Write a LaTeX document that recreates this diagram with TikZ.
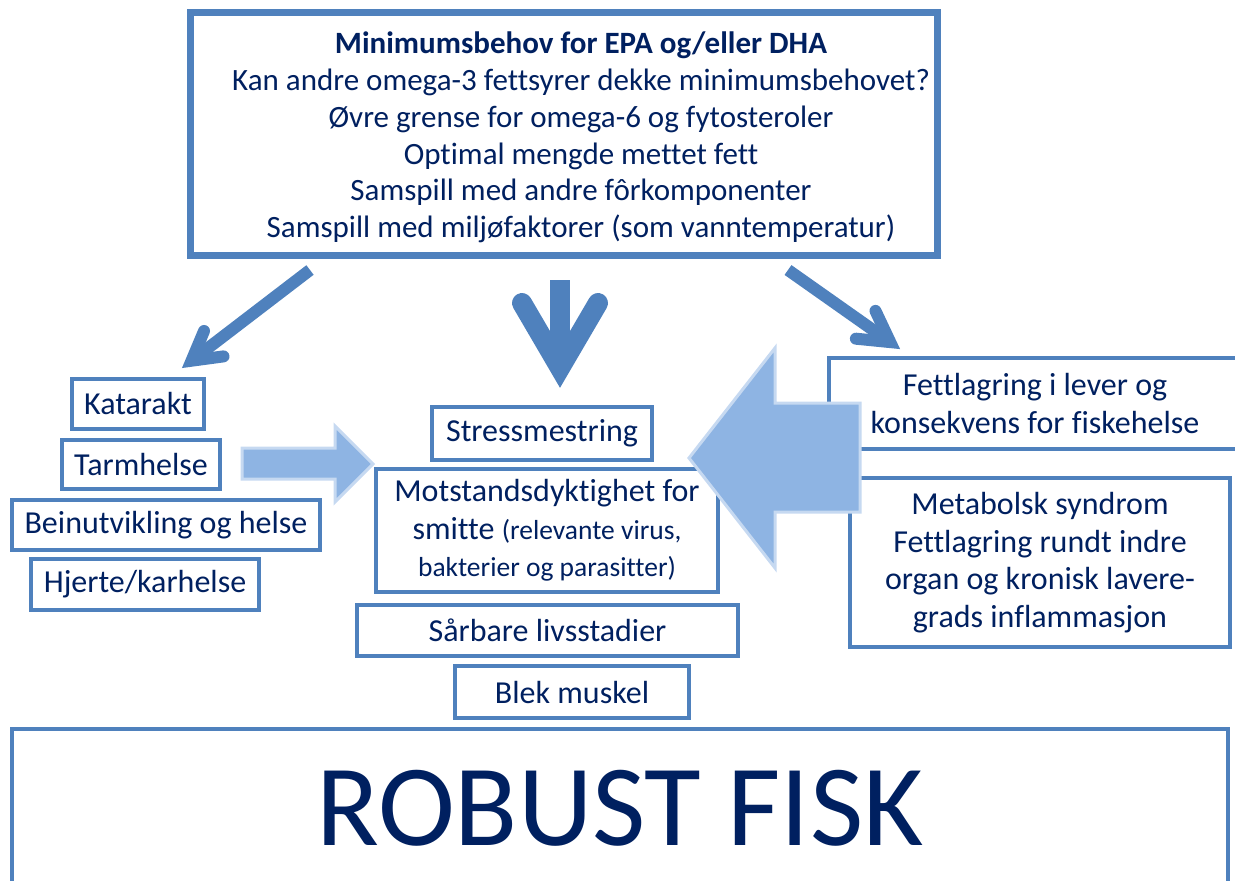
\documentclass[tikz,border=0pt]{standalone}
\usepackage{fontspec}
\setmainfont{Carlito}[Ligatures=NoCommon]
\usetikzlibrary{calc}
\definecolor{bordblue}{RGB}{79,129,189}
\definecolor{navy}{RGB}{0,32,96}
\definecolor{afill}{RGB}{142,180,227}
\definecolor{aedge}{RGB}{198,217,241}
\begin{document}
\begin{tikzpicture}[x=1pt,y=-1pt,
  box/.style={draw=bordblue, line width=4pt, fill=white, text=navy, align=center, inner sep=0pt,
    font=\fontsize{32}{37.7}\selectfont},
  blockarrow/.style={fill=afill, draw=aedge, line width=3pt, line join=miter},
  shaftline/.style={draw=bordblue, line cap=butt},
  headline/.style={draw=bordblue, line cap=round, line join=miter}
]
\useasboundingbox (0,0) rectangle (1235,881);

% top box
\node[box, line width=7pt, minimum width=747pt, minimum height=243pt] (top) at (564,133.5) {};
\node[text=navy, align=center, inner sep=0pt, font=\fontsize{31}{36.8}\selectfont] (toptext) at (581,137.5)
  {\textbf{Minimumsbehov for EPA og/eller DHA}\\
   Kan andre omega-3 fettsyrer dekke minimumsbehovet?\\
   Øvre grense for omega-6 og fytosteroler\\
   Optimal mengde mettet fett\\
   Samspill med andre fôrkomponenter\\
   Samspill med miljøfaktorer (som vanntemperatur)};

% left column
\node[box, minimum width=132pt, minimum height=50pt] (kat) at (138,404) {Katarakt};
\node[box, minimum width=158pt, minimum height=49pt] (tarm) at (141,464.5) {Tarmhelse};
\node[box, minimum width=308pt, minimum height=50pt] (bein) at (166,525) {Beinutvikling og helse};
\node[box, minimum width=228pt, minimum height=51pt] (hjerte) at (145,584.5) {Hjerte/karhelse};

% middle column
\node[box, minimum width=220pt, minimum height=53pt] (stress) at (542,433.5) {Stressmestring};
\node[box, minimum width=342pt, minimum height=123pt] (motst) at (547,530.5)
  {Motstandsdyktighet for\\
   smitte {\fontsize{27.5}{31}\selectfont (relevante virus,}\\
   {\fontsize{27.5}{31}\selectfont bakterier og parasitter)}};
\node[box, minimum width=381pt, minimum height=51pt] (sarb) at (547.5,630.5) {Sårbare livsstadier};
\node[box, minimum width=234pt, minimum height=52pt] (blek) at (572,692) {Blek muskel};

% right column
\node[box, minimum width=412pt, minimum height=91pt] (fett) at (1035,403.5)
  {Fettlagring i lever og\\konsekvens for fiskehelse};
\node[box, minimum width=380pt, minimum height=169pt] (meta) at (1040,562.5)
  {Metabolsk syndrom\\Fettlagring rundt indre\\organ og kronisk lavere-\\grads inflammasjon};

% bottom box
\node[box, minimum width=1216pt, minimum height=159pt,
  font=\fontsize{116}{120}\selectfont] (robust) at (620,808.5) {ROBUST FISK};

% block arrows
\draw[blockarrow] (242,448) -- (335,448) -- (335,426) -- (373,464) -- (335,502) -- (335,479) -- (242,479) -- cycle;
\draw[blockarrow] (860,403) -- (775,403) -- (775,348) -- (689,458) -- (775,568) -- (775,512) -- (860,512) -- cycle;

% line arrows
\coordinate (ls) at (310,270);
\coordinate (lt) at (182,368);
\coordinate (ms) at (560,280);
\coordinate (mt) at (560,388);
\coordinate (rs) at (788,270);
\coordinate (rt) at (900,349);

\draw[shaftline, line width=12pt] (ls) -- ($(lt)!14pt!(ls)$);
\draw[headline, line width=12pt] ($(lt)!40pt!(ls)!16pt!90:(ls)$) -- ($(lt)!12pt!(ls)$) -- ($(lt)!40pt!(ls)!16pt!-90:(ls)$);

\draw[shaftline, line width=20pt] (ms) -- ($(mt)!24pt!(ms)$);
\draw[headline, line width=20pt] ($(mt)!85pt!(ms)!38pt!90:(ms)$) -- ($(mt)!20pt!(ms)$) -- ($(mt)!85pt!(ms)!38pt!-90:(ms)$);

\draw[shaftline, line width=12pt] (rs) -- ($(rt)!14pt!(rs)$);
\draw[headline, line width=12pt] ($(rt)!42pt!(rs)!17pt!90:(rs)$) -- ($(rt)!12pt!(rs)$) -- ($(rt)!42pt!(rs)!17pt!-90:(rs)$);
\end{tikzpicture}
\end{document}
